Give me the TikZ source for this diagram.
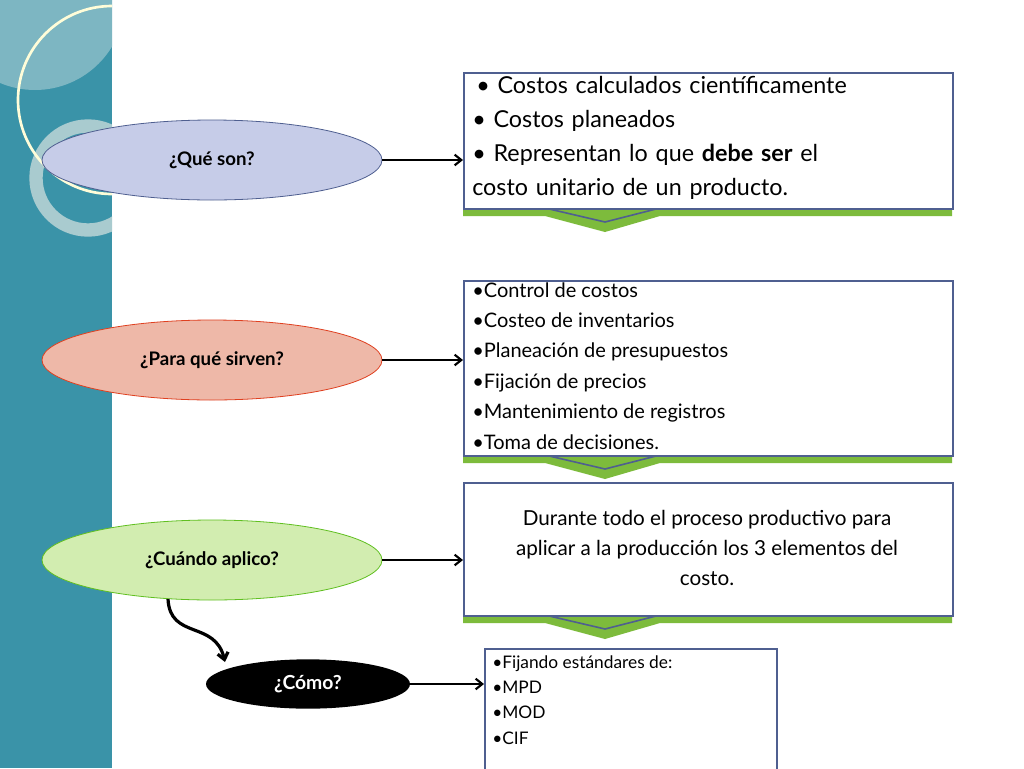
\documentclass[tikz,border=0pt]{standalone}
\usepackage{fontspec}
\setmainfont{Lato}
\usetikzlibrary{shapes.geometric,arrows.meta}
\definecolor{teal1}{HTML}{3A93A8}
\definecolor{teal2}{HTML}{7DB6C2}
\definecolor{ring}{HTML}{A9CBCF}
\definecolor{boxb}{HTML}{4F5F90}
\definecolor{grn}{HTML}{7DBB3C}
\definecolor{f1}{HTML}{C6CCE8}
\definecolor{f2}{HTML}{EEB8A8}
\definecolor{f3}{HTML}{D2EDB0}
\tikzset{
 q/.style={ellipse,minimum width=340pt*0.75,minimum height=80pt*0.75,line width=0.6pt,font=\bfseries\fontsize{14}{16}\selectfont},
 bx/.style={draw=boxb,line width=1.5pt,fill=white,inner sep=0pt},
 arr/.style={-{Straight Barb[length=5pt,width=8pt]},line width=1.6pt},
}
\begin{document}
\begin{tikzpicture}[x=0.75pt,y=-0.75pt]
\useasboundingbox (0,0) rectangle (1024,768);
\fill[white] (0,0) rectangle (1024,768);
% left band
\begin{scope}
\clip (0,0) rectangle (112,768);
\fill[teal1] (0,0) rectangle (112,768);
\fill[teal2] (35,0) circle (90);
\draw[ring,line width=10pt] (88,178) circle (52);
\draw[yellow!15!white,line width=2pt] (112,100) circle (94);
\end{scope}
% ellipses
\node[q,draw=boxb,fill=f1] (q1) at (212,160) {¿Qué son?};
\node[q,draw=red!50!brown,fill=f2] (q2) at (212,360) {¿Para qué sirven?};
\node[q,draw=green!50!brown,fill=f3] (q3) at (212,560) {¿Cuándo aplico?};
\node[ellipse,fill=black,text=white,minimum width=153pt,minimum height=37pt,font=\bfseries\fontsize{14.5}{16}\selectfont] (q4) at (308,684) {¿Cómo?};
% chevrons
\foreach \yt/\yb in {72/208,280/455,482/615}{
 \fill[grn] (463,\yb-6) -- (952,\yb-6) -- (952,\yb+8) -- (660,\yb+8) -- (605,\yb+24) -- (545,\yb+8) -- (463,\yb+8) -- cycle;
 \draw[boxb,line width=1.2pt] (545,\yb) -- (605,\yb+14) -- (660,\yb);
}
% boxes
\node[bx,minimum width=367pt,minimum height=102pt,anchor=north west] (b1) at (463,72) {};
\node[anchor=north west,inner sep=0pt,text width=357pt,font=\fontsize{17.5}{25.5}\selectfont] (t1) at (472,76) {%
\hspace*{3pt}• Costos calculados científicamente\\
• Costos planeados\\
• Representan lo que \textbf{debe ser} el\linebreak costo unitario de un producto.};
\node[bx,minimum width=367pt,minimum height=131pt,anchor=north west] (b2) at (463,280) {};
\node[anchor=north west,inner sep=0pt,align=left,font=\fontsize{15}{22.8}\selectfont] (t2) at (472,282) {%
•Control de costos\\•Costeo de inventarios\\•Planeación de presupuestos\\•Fijación de precios\\•Mantenimiento de registros\\•Toma de decisiones.};
\node[bx,minimum width=367pt,minimum height=100pt,anchor=north west] (b3) at (463,482) {};
\node[align=center,inner sep=0pt,font=\fontsize{15.5}{22.8}\selectfont] (t3) at (707,548) {Durante todo el proceso productivo para\\aplicar a la producción los 3 elementos del\\costo.};
\node[bx,line width=1.2pt,minimum width=219pt,minimum height=95pt,anchor=north west] (b4) at (484,648) {};
\node[anchor=north west,inner sep=0pt,align=left,font=\fontsize{13}{19}\selectfont] (t4) at (492,655) {•Fijando estándares de:\\•MPD\\•MOD\\•CIF};
% arrows
\draw[arr] (q1.east) -- (b1.west |- q1.east);
\draw[arr] (q2.east) -- (b2.west |- q2.east);
\draw[arr] (q3.east) -- (b3.west |- q3.east);
\draw[arr] (q4.east) -- (b4.west |- q4.east);
\coordinate (c0) at (168,599);
\draw[arr,line width=2.4pt] (c0) .. controls (170,640) and (215,620) .. (225,662);
\end{tikzpicture}
\end{document}
